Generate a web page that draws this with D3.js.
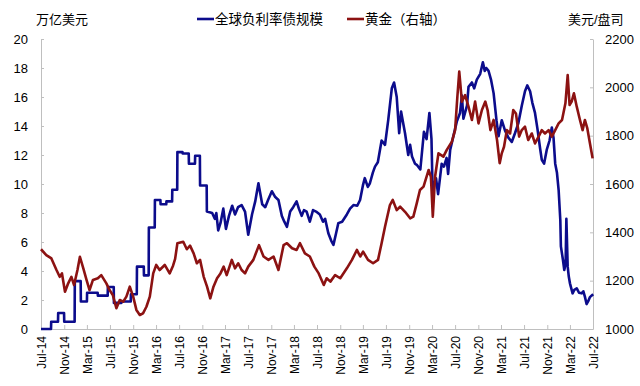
<!DOCTYPE html>
<html>
<head>
<meta charset="utf-8">
<script src="https://cdn.jsdelivr.net/npm/d3@7"></script>
<style>
  body { margin: 0; background: #fff; }
  svg { display: block; font-family: "Liberation Sans", Arial, "Noto Sans CJK SC", sans-serif; }
</style>
</head>
<body>
<svg id="chart"></svg>
<script>
// x axis tick labels
var tickLabels = ["Jul-14","Nov-14","Mar-15","Jul-15","Nov-15","Mar-16","Jul-16","Nov-16",
  "Mar-17","Jul-17","Nov-17","Mar-18","Jul-18","Nov-18","Mar-19","Jul-19","Nov-19",
  "Mar-20","Jul-20","Nov-20","Mar-21","Jul-21","Nov-21","Mar-22","Jul-22"];

// 全球负利率债规模 (万亿美元); early data is monthly, so each level
// is listed at its first and last day
var debtDates = ["2014-07-01","2014-08-23","2014-08-24","2014-09-29","2014-09-30","2014-10-31",
  "2014-11-01","2014-12-26","2014-12-27","2015-01-27","2015-01-28","2015-03-01","2015-03-02",
  "2015-04-27","2015-04-28","2015-06-19","2015-06-20","2015-07-21","2015-07-22","2015-08-31",
  "2015-09-01","2015-10-19","2015-10-20","2015-11-20","2015-11-21","2015-12-27","2015-12-28",
  "2016-01-22","2016-01-23","2016-02-23","2016-02-24","2016-03-24","2016-03-25","2016-04-24",
  "2016-04-25","2016-05-25","2016-05-26","2016-06-21","2016-06-22","2016-07-19","2016-07-20",
  "2016-08-21","2016-08-22","2016-09-23","2016-09-24","2016-10-19","2016-10-20","2016-11-24",
  "2016-11-25","2016-12-23","2017-01-06",
  "2017-01-14","2017-01-24","2017-02-05","2017-02-20","2017-03-06","2017-03-22","2017-04-08",
  "2017-04-23","2017-05-09","2017-05-28","2017-06-15","2017-07-02","2017-07-22","2017-08-08",
  "2017-08-25","2017-09-14","2017-09-30","2017-10-15","2017-11-04","2017-11-22","2017-12-09",
  "2017-12-27","2018-01-09","2018-01-23","2018-02-09","2018-02-25","2018-03-15","2018-03-27",
  "2018-04-11","2018-04-23","2018-05-07","2018-05-24","2018-06-10","2018-06-26","2018-07-16",
  "2018-08-02","2018-08-13","2018-08-30","2018-09-14","2018-09-26","2018-10-10","2018-10-22",
  "2018-11-11","2018-12-06","2018-12-23","2019-01-10","2019-01-30","2019-02-14","2019-03-01",
  "2019-03-11","2019-03-27","2019-04-07","2019-04-23","2019-05-04","2019-05-19","2019-06-08",
  "2019-06-26","2019-07-13","2019-08-01","2019-08-13","2019-08-27","2019-09-09","2019-09-19",
  "2019-09-30","2019-10-10","2019-10-27","2019-11-06","2019-11-16","2019-12-02","2019-12-13",
  "2019-12-30","2020-01-18","2020-02-01","2020-02-16","2020-02-27","2020-03-05","2020-03-12",
  "2020-03-22","2020-04-02","2020-04-21","2020-05-03","2020-05-17","2020-05-25","2020-06-05",
  "2020-06-22","2020-07-10","2020-07-27","2020-08-06","2020-08-14","2020-09-02","2020-09-10",
  "2020-09-28","2020-10-10","2020-10-24","2020-11-11","2020-11-25","2020-12-05","2020-12-13",
  "2020-12-25","2021-01-07","2021-01-21","2021-02-05","2021-02-16","2021-03-05","2021-03-22",
  "2021-04-09","2021-04-27","2021-05-14","2021-06-01","2021-06-19","2021-07-06","2021-07-18",
  "2021-08-02","2021-08-14","2021-08-28","2021-09-10","2021-09-24","2021-10-03","2021-10-15",
  "2021-10-29","2021-11-13","2021-11-25","2021-12-04","2021-12-13","2021-12-22","2021-12-31",
  "2022-01-09","2022-01-12","2022-01-23","2022-01-30","2022-02-06","2022-02-10","2022-02-17",
  "2022-02-23","2022-03-01","2022-03-15","2022-03-24","2022-04-06","2022-04-18","2022-05-02",
  "2022-05-11","2022-05-19","2022-05-28","2022-06-05","2022-06-15","2022-06-23","2022-07-02"];
var debtValues = [0,0,0.5,0.5,1.1,1.1,
  0.5,0.5,3.3,3.3,1.9,1.9,2.5,
  2.5,2.3,2.3,2.9,2.9,1.8,1.8,
  1.9,1.9,2.4,2.4,4.3,4.3,3.7,
  3.7,7.0,7.0,8.9,8.9,8.6,8.6,
  8.8,8.8,9.6,9.6,12.2,12.2,12.1,
  12.1,11.4,11.4,11.95,11.95,9.9,9.9,
  8.1,8.0,7.6,
  8.0,6.8,7.3,8.3,6.9,7.8,8.5,
  7.9,8.4,8.55,8.1,6.5,7.9,8.8,
  10.05,8.6,8.4,8.9,9.5,9.1,8.9,
  7.8,7.4,7.05,8.1,8.4,8.8,8.3,
  7.8,8.2,8.1,7.4,8.2,8.1,7.9,
  7.4,7.6,6.6,6.1,5.8,6.6,7.3,
  7.4,7.9,8.3,8.55,8.5,8.9,9.9,
  10.4,9.8,10.05,10.8,11.2,11.5,13.0,
  12.7,14.4,16.6,17.0,16.0,13.5,15.0,
  14.2,13.5,12.0,12.7,11.9,11.4,11.3,
  11.0,13.6,13.1,14.9,13.1,8.9,10.0,
  10.4,9.3,11.4,11.2,11.8,10.7,12.35,
  13.3,14.3,14.9,16.1,14.5,15.4,16.7,
  17.0,16.6,17.2,17.6,18.4,17.8,18.0,
  17.8,17.2,16.25,14.4,13.3,14.4,13.7,
  13.2,12.9,13.5,14.2,15.4,16.4,16.8,
  16.4,15.6,14.9,13.8,12.45,11.66,11.4,
  12.35,13.0,13.9,13.2,11.4,10.8,9.6,
  7.5,5.7,4.76,4.07,4.5,7.6,4.3,
  3.6,3.15,2.46,2.7,2.8,2.5,2.46,
  2.6,2.23,1.72,1.9,2.2,2.3,2.4];

// 黄金 (美元/盎司, 右轴)
var goldDates = ["2014-07-01","2014-07-29","2014-08-25","2014-09-21","2014-10-08","2014-10-20",
  "2014-11-05","2014-11-22","2014-12-09","2014-12-23","2015-01-10","2015-01-23","2015-02-10",
  "2015-02-27","2015-03-15","2015-04-02","2015-04-28","2015-05-16","2015-06-12","2015-06-29",
  "2015-07-16","2015-08-04","2015-08-22","2015-09-09","2015-09-26","2015-10-14","2015-11-01",
  "2015-11-18","2015-12-06","2015-12-23","2016-01-10","2016-01-28","2016-02-15","2016-03-02",
  "2016-03-20","2016-04-16","2016-05-12","2016-05-30","2016-06-10","2016-06-22","2016-07-23",
  "2016-08-11","2016-08-28","2016-09-16","2016-10-03","2016-10-20","2016-11-08","2016-11-26",
  "2016-12-13","2016-12-30","2017-01-18","2017-02-05","2017-02-22","2017-03-10","2017-04-06",
  "2017-04-23","2017-05-10","2017-05-28","2017-06-15","2017-07-02","2017-07-29","2017-08-28",
  "2017-09-21","2017-10-17","2017-11-13","2017-12-09","2018-01-05","2018-01-23","2018-02-19",
  "2018-03-15","2018-04-02","2018-04-28","2018-05-24","2018-06-17","2018-07-10","2018-08-06",
  "2018-08-21","2018-09-10","2018-10-05","2018-11-01","2018-12-06","2019-01-02","2019-01-28",
  "2019-02-15","2019-03-02","2019-03-28","2019-04-24","2019-05-20","2019-06-08","2019-06-26",
  "2019-07-22","2019-08-06","2019-08-27","2019-09-14","2019-10-10","2019-11-06","2019-11-23",
  "2019-12-11","2019-12-28","2020-01-16","2020-02-12","2020-02-24","2020-03-05","2020-03-17",
  "2020-04-04","2020-04-30","2020-05-18","2020-06-14","2020-07-01","2020-07-13","2020-07-23",
  "2020-08-06","2020-08-23","2020-09-10","2020-09-28","2020-10-15","2020-11-02","2020-11-20",
  "2020-12-08","2020-12-20","2021-01-04","2021-01-21","2021-02-08","2021-02-22","2021-03-05",
  "2021-03-17","2021-04-01","2021-04-18","2021-05-05","2021-05-19","2021-06-05","2021-06-19",
  "2021-07-06","2021-07-23","2021-08-11","2021-08-28","2021-09-16","2021-10-03","2021-10-20",
  "2021-11-08","2021-11-25","2021-12-13","2021-12-31","2022-01-18","2022-02-05","2022-02-17",
  "2022-02-27","2022-03-10","2022-03-22","2022-04-06","2022-04-23","2022-05-07","2022-05-19",
  "2022-06-01","2022-06-15","2022-06-29"];
var goldValues = [1330,1306,1292,1244,1216,1230,
  1154,1189,1216,1182,1244,1299,1251,
  1203,1161,1203,1210,1223,1189,1161,
  1141,1086,1120,1113,1134,1175,1134,
  1079,1058,1065,1092,1134,1230,1265,
  1244,1265,1230,1262,1290,1355,1361,
  1330,1345,1313,1272,1286,1217,1175,
  1127,1175,1210,1230,1258,1223,1286,
  1251,1272,1244,1230,1258,1286,1347,
  1300,1286,1300,1244,1347,1355,1334,
  1327,1355,1313,1300,1258,1230,1182,
  1210,1196,1223,1210,1251,1286,1327,
  1300,1320,1286,1272,1286,1355,1423,
  1513,1534,1492,1506,1485,1458,1465,
  1520,1575,1589,1658,1630,1465,1630,
  1727,1713,1741,1775,1823,1961,2065,
  1941,1968,1920,1865,1941,1851,1906,
  1941,1906,1823,1865,1782,1686,1727,
  1754,1823,1809,1906,1892,1796,1823,
  1837,1782,1809,1768,1796,1823,1809,
  1823,1796,1823,1851,1865,1934,2051,
  1927,1941,1975,1920,1865,1823,1865,
  1830,1768,1706];

var width = 640,
    height = 386;

var parse = d3.timeParse("%Y-%m-%d"),
    parseTick = d3.timeParse("%b-%y");

var debt = debtDates.map(function(d, i) { return { date: parse(d), value: debtValues[i] }; });
var gold = goldDates.map(function(d, i) { return { date: parse(d), value: goldValues[i] }; });
var tickDates = tickLabels.map(function(d) { return parseTick(d); });

var svg = d3.select("#chart")
  .attr("width", width)
  .attr("height", height);

svg.append("rect")
  .attr("width", width)
  .attr("height", height)
  .attr("fill", "#fff");

// scales
var x = d3.scaleTime()
  .domain([tickDates[0], tickDates[tickDates.length - 1]])
  .range([41, 593]);

var yLeft = d3.scaleLinear().domain([0, 20]).range([329, 39]);
var yRight = d3.scaleLinear().domain([1000, 2200]).range([329, 39]);

// axes
var axisColour = "#bfbfbf";

var gLeft = svg.append("g")
  .attr("transform", "translate(41,0)")
  .call(d3.axisLeft(yLeft)
    .tickValues(d3.range(0, 21, 2))
    .tickSizeInner(-3)
    .tickSizeOuter(0)
    .tickPadding(13));

var gRight = svg.append("g")
  .attr("transform", "translate(593,0)")
  .call(d3.axisRight(yRight)
    .tickValues(d3.range(1000, 2201, 200))
    .tickFormat(d3.format("d"))
    .tickSizeInner(-3)
    .tickSizeOuter(0)
    .tickPadding(12));

var gBottom = svg.append("g")
  .attr("transform", "translate(0,329)")
  .call(d3.axisBottom(x)
    .tickValues(tickDates)
    .tickFormat(function(d, i) { return tickLabels[i]; })
    .tickSizeInner(-4)
    .tickSizeOuter(0));

gBottom.selectAll("text")
  .attr("transform", "rotate(-90)")
  .attr("x", -7)
  .attr("y", 0)
  .attr("dy", "0.35em")
  .style("text-anchor", "end")
  .style("font-size", "12px");

[gLeft, gRight, gBottom].forEach(function(g) {
  g.select(".domain").attr("stroke", axisColour);
  g.selectAll(".tick line").attr("stroke", axisColour);
  g.selectAll("text").attr("fill", "#000").style("font-family", null);
});
gLeft.selectAll("text").style("font-size", "13px");
gRight.selectAll("text").style("font-size", "13px");

// lines
var blue = "#0c0c8c",
    red = "#8c1212";

var debtLine = d3.line()
  .x(function(d) { return x(d.date); })
  .y(function(d) { return yLeft(d.value); });

var goldLine = d3.line()
  .x(function(d) { return x(d.date); })
  .y(function(d) { return yRight(d.value); });

svg.append("path")
  .datum(debt)
  .attr("d", debtLine)
  .attr("fill", "none")
  .attr("stroke", blue)
  .attr("stroke-width", 2.6)
  .attr("stroke-linejoin", "round");

svg.append("path")
  .datum(gold)
  .attr("d", goldLine)
  .attr("fill", "none")
  .attr("stroke", red)
  .attr("stroke-width", 2.6)
  .attr("stroke-linejoin", "round");

// unit labels
svg.append("text")
  .attr("x", 36)
  .attr("y", 24)
  .style("font-size", "13px")
  .text("万亿美元");

svg.append("text")
  .attr("x", 568)
  .attr("y", 24)
  .style("font-size", "13px")
  .text("美元/盘司");

// legend
var legend = [
  { label: "全球负利率债规模", colour: blue, x: 197 },
  { label: "黄金（右轴）", colour: red, x: 347 }
];

var lg = svg.selectAll(".legend")
  .data(legend)
  .enter().append("g")
  .attr("class", "legend")
  .attr("transform", function(d) { return "translate(" + d.x + ",19)"; });

lg.append("line")
  .attr("x1", 0)
  .attr("x2", 17)
  .attr("stroke", function(d) { return d.colour; })
  .attr("stroke-width", 2.6);

lg.append("text")
  .attr("x", 18)
  .attr("dy", "0.36em")
  .style("font-size", "13.5px")
  .text(function(d) { return d.label; });
</script>
</body>
</html>
